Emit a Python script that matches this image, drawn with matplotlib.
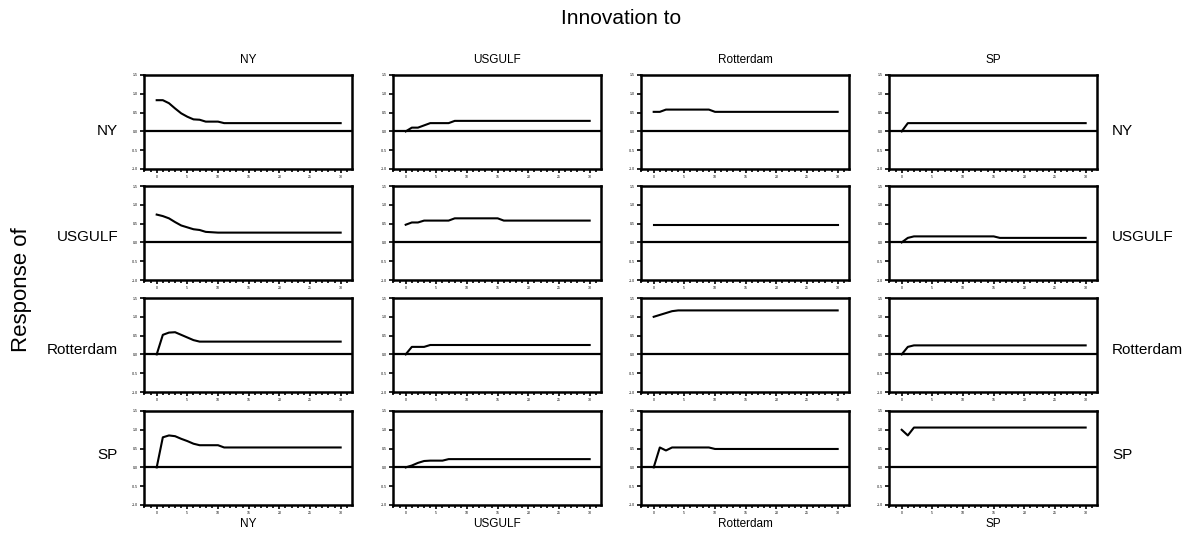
import numpy as np
import matplotlib.pyplot as plt
from matplotlib.ticker import MultipleLocator

plt.rcParams['font.family'] = ['Liberation Sans', 'DejaVu Sans']

# variables (shock / response)
names = ['NY', 'USGULF', 'Rotterdam', 'SP']
periods = np.arange(0, 31)


def pad(vals):
    # hold the last read value flat to the end of the horizon
    return np.array(vals + [vals[-1]] * (31 - len(vals)))


# response of NY
ny_ny = pad([0.83, 0.83, 0.75, 0.61, 0.48, 0.39, 0.32, 0.31, 0.26, 0.26, 0.26, 0.22])
ny_usgulf = pad([0.0, 0.1, 0.1, 0.16, 0.22, 0.22, 0.22, 0.22, 0.28])
ny_rott = pad([0.52, 0.52, 0.58, 0.58, 0.58, 0.58, 0.58, 0.58, 0.58, 0.58, 0.52])
ny_sp = pad([0.0, 0.22])

# response of USGULF
us_ny = pad([0.74, 0.70, 0.64, 0.54, 0.45, 0.40, 0.35, 0.33, 0.28, 0.27, 0.26])
us_usgulf = pad([0.47, 0.53, 0.53, 0.58, 0.58, 0.58, 0.58, 0.58,
                 0.64, 0.64, 0.64, 0.64, 0.64, 0.64, 0.64, 0.64, 0.58])
us_rott = pad([0.47])
us_sp = pad([0.0, 0.12, 0.16, 0.16, 0.16, 0.16, 0.16, 0.16,
             0.16, 0.16, 0.16, 0.16, 0.16, 0.16, 0.16, 0.16, 0.12])

# response of Rotterdam
ro_ny = pad([0.0, 0.52, 0.58, 0.59, 0.52, 0.45, 0.38, 0.34])
ro_usgulf = pad([0.0, 0.2, 0.2, 0.2, 0.25])
ro_rott = pad([1.0, 1.05, 1.10, 1.15, 1.17])
ro_sp = pad([0.0, 0.2, 0.24])

# response of SP
sp_ny = pad([0.0, 0.80, 0.85, 0.83, 0.76, 0.70, 0.63, 0.59, 0.59, 0.59, 0.59, 0.53])
sp_usgulf = pad([0.0, 0.05, 0.12, 0.17, 0.18, 0.18, 0.18, 0.22])
sp_rott = pad([0.0, 0.53, 0.45, 0.53, 0.53, 0.53, 0.53, 0.53, 0.53, 0.53, 0.49])
sp_sp = pad([1.0, 0.85, 1.06])

resp = [[ny_ny, ny_usgulf, ny_rott, ny_sp],
        [us_ny, us_usgulf, us_rott, us_sp],
        [ro_ny, ro_usgulf, ro_rott, ro_sp],
        [sp_ny, sp_usgulf, sp_rott, sp_sp]]

W, H = 1190, 535
fig = plt.figure(figsize=(W / 100, H / 100), dpi=100)

lefts = [144, 393, 641, 889]
tops = [75, 186, 298, 411]
aw, ah = 208, 94

for i in range(4):
    for j in range(4):
        ax = fig.add_axes([lefts[j] / W, 1 - (tops[i] + ah) / H, aw / W, ah / H])
        ax.plot(periods, resp[i][j], color='black', lw=1.5)
        ax.axhline(0, color='black', lw=1.6)
        ax.set_xlim(-2.07, 31.85)
        ax.set_ylim(-1.0, 1.5)
        ax.xaxis.set_major_locator(MultipleLocator(5))
        ax.xaxis.set_minor_locator(MultipleLocator(1))
        ax.yaxis.set_major_locator(MultipleLocator(0.5))
        ax.yaxis.set_major_formatter(plt.FuncFormatter(lambda v, p: '%.1f' % v))
        ax.tick_params(which='major', length=3, width=1.2, labelsize=2.5, pad=1.5)
        ax.tick_params(which='minor', length=2, width=1.2)
        for s in ax.spines.values():
            s.set_linewidth(1.8)

# column titles top and bottom
for j in range(4):
    cx = (lefts[j] + aw / 2) / W
    fig.text(cx, 1 - 60 / H, names[j], ha='center', va='center', fontsize=8.5)
    fig.text(cx, 1 - 524 / H, names[j], ha='center', va='center', fontsize=8.5)

# row labels left and right
row_y = [131, 237, 350, 455]
for i in range(4):
    fig.text(118 / W, 1 - row_y[i] / H, names[i], ha='right', va='center', fontsize=11)
    fig.text(1112 / W, 1 - row_y[i] / H, names[i], ha='left', va='center', fontsize=11)

fig.text(621 / W, 1 - 19 / H, 'Innovation to', ha='center', va='center', fontsize=15)
fig.text(22 / W, 1 - 290 / H, 'Response of', ha='center', va='center',
         rotation=90, fontsize=16)

fig.savefig('out.png', dpi=100)
